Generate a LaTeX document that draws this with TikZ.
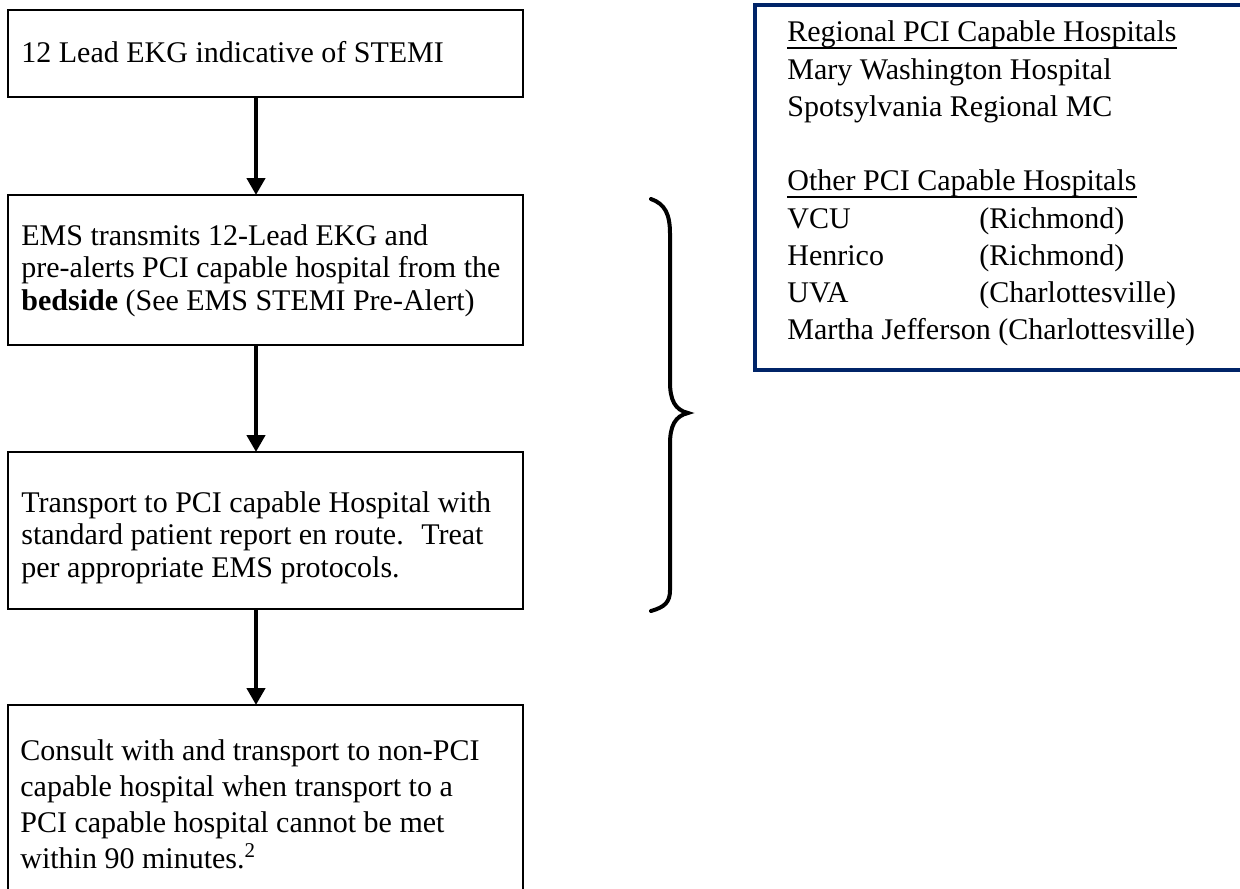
\documentclass[tikz,border=0pt]{standalone}
\usepackage{fontspec}
\setmainfont{Liberation Serif}
\usetikzlibrary{arrows.meta}
\definecolor{navy}{RGB}{0,36,104}
\newenvironment{lines}{\begin{tabular}[t]{@{}l@{}}}{\end{tabular}}
% heading underline set close beneath the baseline
\newcommand\hospul[1]{\setbox0\hbox{#1}\rlap{\rule[-3.4pt]{\wd0}{0.75pt}}\box0}
\begin{document}
\begin{tikzpicture}[x=0.5pt,y=-0.5pt,
  stepbox/.style={draw,line width=0.9pt,minimum width=257.5pt,anchor=north west,
    inner sep=0pt,outer sep=0pt},
  steptext/.style={anchor=base west,inner sep=0pt,
    font=\fontsize{15pt}{16.25pt}\selectfont},
  flow/.style={line width=2.2pt,-{Triangle[length=8.5pt,width=9pt]}},
  listbox/.style={draw=navy,line width=1.6pt,anchor=north west,inner sep=0pt,outer sep=0pt},
  listtext/.style={anchor=base west,inner sep=0pt,
    font=\fontsize{15pt}{18.6pt}\selectfont},
  bracket/.style={line width=2pt,line cap=round}]
\useasboundingbox (0,0) rectangle (1240,888);
\clip (0,0) rectangle (1240,888);

% flow chart steps
\node[stepbox,minimum height=43.5pt] (b1) at (8,10) {};
\node[stepbox,minimum height=75pt]   (b2) at (8,195) {};
\node[stepbox,minimum height=78.5pt] (b3) at (8,452) {};
\node[stepbox,minimum height=97.5pt] (b4) at (8,705) {};

\node[steptext] (t1) at (21,62) {12 Lead EKG indicative of STEMI};
\node[steptext] (t2) at (21,245) {\begin{lines}EMS transmits 12-Lead EKG and\\
  pre-alerts PCI capable hospital from the\\
  \textbf{bedside} (See EMS STEMI Pre-Alert)\end{lines}};
\node[steptext] (t3) at (21,512) {\begin{lines}Transport to PCI capable Hospital with\\
  standard patient report en route.~ Treat\\
  per appropriate EMS protocols.\end{lines}};
\node[steptext,font=\fontsize{15pt}{18pt}\selectfont] (t4) at (20,760)
  {\begin{lines}Consult with and transport to non-PCI\\
  capable hospital when transport to a\\
  PCI capable hospital cannot be met\\
  within 90 minutes.\textsuperscript{2}\end{lines}};

% arrows between the steps
\coordinate (axis) at (256,0);
\draw[flow] (b1.south -| axis) -- (b2.north -| axis);
\draw[flow] (b2.south -| axis) -- (b3.north -| axis);
\draw[flow] (b3.south -| axis) -- (b4.north -| axis);

% curly bracket grouping the middle steps
\draw[bracket] (651,199) .. controls (665,204) and (670,214) .. (670,234)
  -- (670,382) .. controls (670,400) and (675,410) .. (688,413)
  .. controls (675,416) and (670,426) .. (670,444)
  -- (670,590) .. controls (670,602) and (665,607) .. (651,611);

% hospital list
\node[listbox,minimum width=255pt,minimum height=182.5pt] (list) at (755,5) {};
\node[listtext] (lt) at (787,42) {\begin{lines}\hospul{Regional PCI Capable Hospitals}\\
  Mary Washington Hospital\\
  Spotsylvania Regional MC\\[18.6pt]
  \hospul{Other PCI Capable Hospitals}\\
  \makebox[96pt][l]{VCU}(Richmond)\\
  \makebox[96pt][l]{Henrico}(Richmond)\\
  \makebox[96pt][l]{UVA}(Charlottesville)\\
  Martha Jefferson (Charlottesville)\end{lines}};
\end{tikzpicture}
\end{document}
